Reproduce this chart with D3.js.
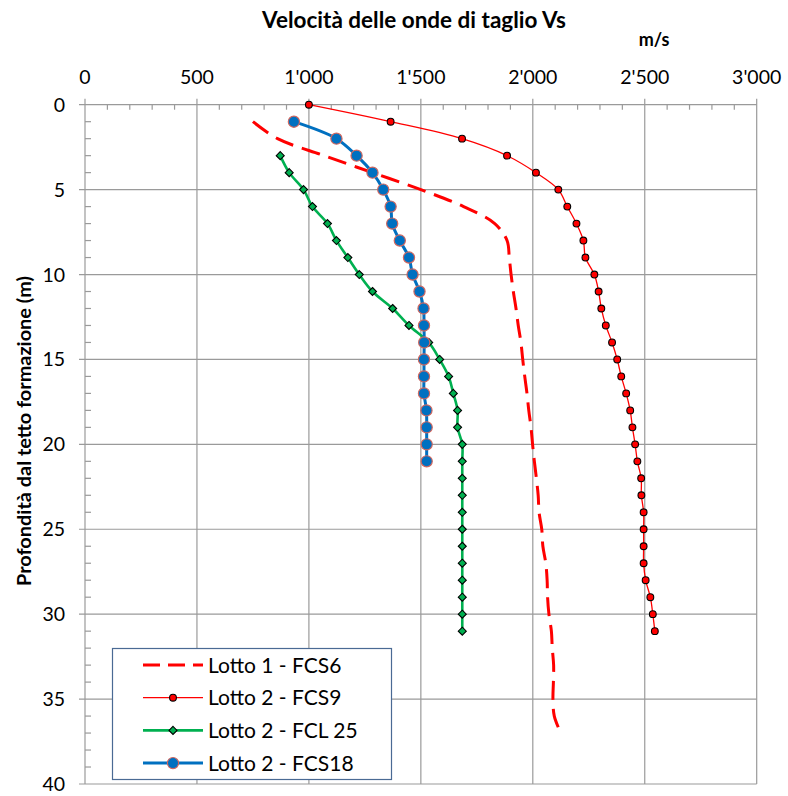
<!DOCTYPE html>
<html lang="it">
<head>
  <meta charset="utf-8">
  <style>
    body { margin: 0; background: #fff; }
    text { font-family: Lato, "Open Sans", sans-serif; fill: #000; }
    .grid line { stroke: #9a9a9a; stroke-width: 1.2px; }
    .tick-label { font-size: 19.5px; }
    .legend-label { font-size: 21px; }
  </style>
  <script src="https://d3js.org/d3.v7.min.js"></script>
</head>
<body>
  <script>
    // Lotto 1 - FCS6 (dashed, no markers)
    const depthFCS6 = [1, 2, 3, 4, 5, 6, 7, 8, 9, 10, 11, 12, 13, 14, 15, 16, 17, 18, 19,
      20, 21, 22, 23, 24, 25, 26, 27, 28, 29, 30, 31, 32, 33, 34, 35, 36, 37];
    const velFCS6 = [750, 860, 1068, 1284, 1500, 1691, 1830, 1885, 1895, 1903, 1913, 1925, 1935,
      1947, 1955, 1964, 1974, 1982, 1992, 1999, 2007, 2016, 2024, 2028, 2040, 2045, 2058, 2064,
      2066, 2072, 2083, 2087, 2093, 2092, 2090, 2096, 2125];

    // Lotto 2 - FCS9
    const depthFCS9 = [0, 1, 2, 3, 4, 5, 6, 7, 8, 9, 10, 11, 12, 13, 14, 15, 16, 17, 18, 19,
      20, 21, 22, 23, 24, 25, 26, 27, 28, 29, 30, 31];
    const velFCS9 = [1000, 1365, 1684, 1885, 2014, 2114, 2154, 2195, 2226, 2235, 2275, 2294, 2306,
      2326, 2354, 2377, 2395, 2417, 2435, 2445, 2457, 2467, 2484, 2485, 2495, 2495, 2495, 2495,
      2504, 2525, 2536, 2545];

    // Lotto 2 - FCL 25
    const depthFCL25 = [3, 4, 5, 6, 7, 8, 9, 10, 11, 12, 13, 14, 15, 16, 17, 18, 19, 20, 21, 22,
      23, 24, 25, 26, 27, 28, 29, 30, 31];
    const velFCL25 = [872, 912, 976, 1016, 1083, 1123, 1174, 1225, 1284, 1374, 1447, 1535, 1584,
      1624, 1645, 1664, 1664, 1685, 1685, 1685, 1685, 1685, 1685, 1685, 1685, 1685, 1685, 1685, 1685];

    // Lotto 2 - FCS18
    const depthFCS18 = [1, 2, 3, 4, 5, 6, 7, 8, 9, 10, 11, 12, 13, 14, 15, 16, 17, 18, 19, 20, 21];
    const velFCS18 = [933, 1123, 1213, 1284, 1332, 1365, 1372, 1406, 1447, 1463, 1494, 1512, 1514,
      1515, 1514, 1514, 1514, 1525, 1526, 1526, 1526];

    const xTicks = [0, 500, 1000, 1500, 2000, 2500, 3000];
    const yTicks = [0, 5, 10, 15, 20, 25, 30, 35, 40];

    const titleText = "Velocità delle onde di taglio Vs";
    const unitText = "m/s";
    const yTitleText = "Profondità dal tetto formazione (m)";

    const series = [
      { name: "Lotto 1 - FCS6", depth: depthFCS6, vel: velFCS6, color: "#ff0000", width: 3, dash: "19,9", marker: null },
      { name: "Lotto 2 - FCS9", depth: depthFCS9, vel: velFCS9, color: "#ff0000", width: 1.3, dash: null, marker: "dot" },
      { name: "Lotto 2 - FCL 25", depth: depthFCL25, vel: velFCL25, color: "#00b050", width: 2.6, dash: null, marker: "diamond" },
      { name: "Lotto 2 - FCS18", depth: depthFCS18, vel: velFCS18, color: "#0070c0", width: 3, dash: null, marker: "circle" }
    ];

    const W = 788, H = 796;
    const x = d3.scaleLinear().domain([0, 3000]).range([85, 756.7]);
    const y = d3.scaleLinear().domain([0, 40]).range([104.7, 784]);

    const fmt = d3.formatLocale({ decimal: ".", thousands: "'", grouping: [3], currency: ["", ""] }).format(",");

    const svg = d3.select("body").append("svg")
      .attr("width", W)
      .attr("height", H);

    // gridlines
    const grid = svg.append("g").attr("class", "grid");
    grid.selectAll(".vg").data(xTicks).join("line")
      .attr("x1", d => x(d)).attr("x2", d => x(d))
      .attr("y1", y(0) - 6).attr("y2", y(40));
    grid.selectAll(".hg").data(yTicks).join("line")
      .attr("x1", x(0) - 6).attr("x2", x(3000))
      .attr("y1", d => y(d)).attr("y2", d => y(d));

    // minor ticks
    const minorX = d3.range(0, 3001, 100).filter(v => v % 500 !== 0);
    grid.selectAll(".mx").data(minorX).join("line")
      .attr("x1", d => x(d)).attr("x2", d => x(d))
      .attr("y1", y(0)).attr("y2", y(0) + 5);
    const minorY = d3.range(0, 41, 1).filter(v => v % 5 !== 0);
    grid.selectAll(".my").data(minorY).join("line")
      .attr("x1", x(0)).attr("x2", x(0) + 6)
      .attr("y1", d => y(d)).attr("y2", d => y(d));

    // tick labels
    svg.append("g").selectAll("text").data(xTicks).join("text")
      .attr("class", "tick-label")
      .attr("x", d => x(d))
      .attr("y", 84)
      .attr("text-anchor", "middle")
      .text(d => fmt(d));
    svg.append("g").selectAll("text").data(yTicks).join("text")
      .attr("class", "tick-label")
      .attr("x", 65)
      .attr("y", d => y(d))
      .attr("dy", "0.36em")
      .attr("text-anchor", "end")
      .text(d => d);

    // titles
    svg.append("text")
      .attr("x", 414).attr("y", 28)
      .attr("text-anchor", "middle")
      .style("font-size", "22.5px").style("font-weight", "bold")
      .text(titleText);
    svg.append("text")
      .attr("x", 654).attr("y", 46)
      .attr("text-anchor", "middle")
      .style("font-size", "18px").style("font-weight", "bold")
      .text(unitText);
    svg.append("text")
      .attr("transform", "translate(31,431) rotate(-90)")
      .attr("text-anchor", "middle")
      .attr("textLength", 310)
      .attr("lengthAdjust", "spacingAndGlyphs")
      .style("font-size", "18.5px").style("font-weight", "bold")
      .text(yTitleText);

    const line = d3.line()
      .x(d => x(d[1]))
      .y(d => y(d[0]))
      .curve(d3.curveCatmullRom.alpha(0.5));

    function drawMarker(g, type, cx, cy) {
      if (type === "dot") {
        g.append("circle").attr("cx", cx).attr("cy", cy).attr("r", 3.4)
          .attr("fill", "#ff0000").attr("stroke", "#000").attr("stroke-width", 1.1);
      } else if (type === "diamond") {
        const s = 4;
        g.append("path")
          .attr("d", `M${cx},${cy - s}L${cx + s},${cy}L${cx},${cy + s}L${cx - s},${cy}Z`)
          .attr("fill", "#00b050").attr("stroke", "#000").attr("stroke-width", 1.1);
      } else if (type === "circle") {
        g.append("circle").attr("cx", cx).attr("cy", cy).attr("r", 5.6)
          .attr("fill", "#0070c0").attr("stroke", "#d0675f").attr("stroke-width", 1.2);
      }
    }

    series.forEach(s => {
      const pts = s.depth.map((d, i) => [d, s.vel[i]]);
      const g = svg.append("g");
      g.append("path")
        .datum(pts)
        .attr("fill", "none")
        .attr("stroke", s.color)
        .attr("stroke-width", s.width)
        .attr("stroke-dasharray", s.dash)
        .attr("d", line);
      if (s.marker) {
        pts.forEach(p => drawMarker(g, s.marker, x(p[1]), y(p[0])));
      }
    });

    // legend
    const lg = svg.append("g");
    lg.append("rect")
      .attr("x", 112.5).attr("y", 648.5)
      .attr("width", 279).attr("height", 131)
      .attr("fill", "#fff").attr("stroke", "#4a6a94").attr("stroke-width", 1.2);
    series.forEach((s, i) => {
      const cy = 665 + i * 32.7;
      lg.append("line")
        .attr("x1", 143).attr("x2", 203)
        .attr("y1", cy).attr("y2", cy)
        .attr("stroke", s.color)
        .attr("stroke-width", s.width)
        .attr("stroke-dasharray", s.dash ? "17,8" : null);
      if (s.marker) drawMarker(lg, s.marker, 173, cy);
      lg.append("text")
        .attr("class", "legend-label")
        .attr("x", 208).attr("y", cy)
        .attr("dy", "0.36em")
        .text(s.name);
    });
  </script>
</body>
</html>
